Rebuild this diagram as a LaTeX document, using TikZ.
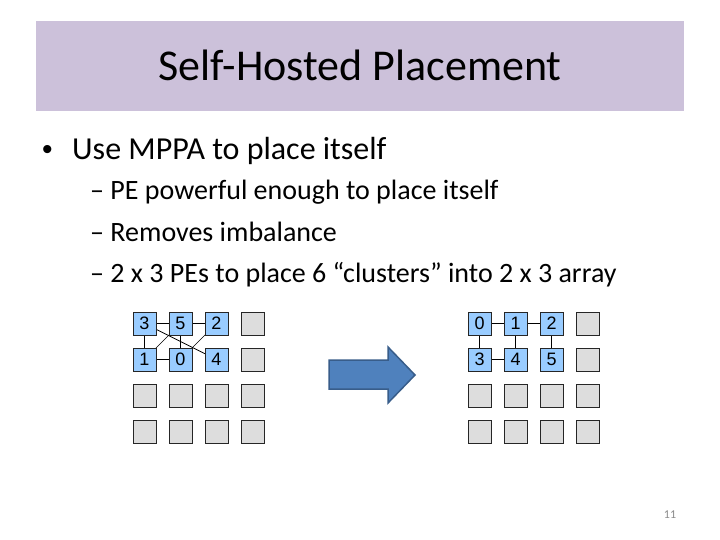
\documentclass[tikz,border=0pt]{standalone}
\usepackage{fontspec}
\setmainfont{Carlito}
\newfontfamily\arialfont{Liberation Sans}
\definecolor{titlebg}{HTML}{CCC1DA}
\definecolor{peblue}{HTML}{99CCFF}
\definecolor{pegray}{HTML}{DDDDDD}
\definecolor{arrowfill}{HTML}{4F81BD}
\definecolor{arrowline}{HTML}{385D8A}
\definecolor{pagegray}{HTML}{8B8B8B}
\tikzset{
  pe/.style={draw=black!85, line width=0.8pt, minimum size=23pt, inner sep=0pt, font=\arialfont\fontsize{18}{18}\selectfont},
  peused/.style={pe, fill=peblue},
  pefree/.style={pe, fill=pegray},
  link/.style={draw=black, line width=0.7pt},
  txt/.style={anchor=base west, inner sep=0pt}
}
\begin{document}
\begin{tikzpicture}[x=1pt,y=-1pt]
\useasboundingbox (0,0) rectangle (720,540);
\fill[white] (0,0) rectangle (720,540);
% title bar
\fill[titlebg] (36,21) rectangle (684,111);
\node[anchor=base, inner sep=0pt, font=\fontsize{44}{44}\selectfont] (title) at (360,81) {Self-Hosted Placement};
% bullets
\node[txt, font=\arialfont\fontsize{30}{30}\selectfont] (b0) at (42,160) {•};
\node[txt, font=\fontsize{32}{32}\selectfont] (t0) at (72,160) {Use MPPA to place itself};
\node[txt, font=\fontsize{28}{28}\selectfont] (t1) at (90,200) {– PE powerful enough to place itself};
\node[txt, font=\fontsize{28}{28}\selectfont] (t2) at (90,241) {– Removes imbalance};
\node[txt, font=\fontsize{28}{28}\selectfont] (t3) at (90,282) {– 2 x 3 PEs to place 6 “clusters” into 2 x 3 array};
% left grid links (drawn first, behind)
\coordinate (L00) at (144.5,323.5);
\coordinate (L10) at (180.5,323.5);
\coordinate (L20) at (216.5,323.5);
\coordinate (L01) at (144.5,359.5);
\coordinate (L11) at (180.5,359.5);
\coordinate (L21) at (216.5,359.5);
\draw[link] (L00) -- (L10);
\draw[link] (L10) -- (L20);
\draw[link] (L00) -- (L01);
\draw[link] (L01) -- (L11);
\draw[link] (L10) -- (L11);
\draw[link] (L00) -- (L21);
\draw[link] (L01) -- (L10);
\draw[link] (L11) -- (L20);
% left grid nodes
\node[peused] (l3) at (L00) {3};
\node[peused] (l5) at (L10) {5};
\node[peused] (l2) at (L20) {2};
\node[pefree] (lg03) at (252.5,323.5) {};
\node[peused] (l1) at (L01) {1};
\node[peused] (l0) at (L11) {0};
\node[peused] (l4) at (L21) {4};
\node[pefree] (lg13) at (252.5,359.5) {};
\foreach \i/\x in {0/144.5,1/180.5,2/216.5,3/252.5}{
  \node[pefree] (lga\i) at (\x,395.5) {};
  \node[pefree] (lgb\i) at (\x,431.5) {};
}
% arrow
\draw[arrowline, fill=arrowfill, line width=1.5pt, line join=miter]
  (329,360) -- (388,360) -- (388,347) -- (415,375) -- (388,403) -- (388,389) -- (329,389) -- cycle;
% right grid
\coordinate (R00) at (479.5,323.5);
\coordinate (R10) at (515.5,323.5);
\coordinate (R20) at (551.5,323.5);
\coordinate (R01) at (479.5,359.5);
\coordinate (R11) at (515.5,359.5);
\coordinate (R21) at (551.5,359.5);
\draw[link] (R00) -- (R10);
\draw[link] (R10) -- (R20);
\draw[link] (R00) -- (R01);
\draw[link] (R10) -- (R11);
\draw[link] (R20) -- (R21);
\draw[link] (R01) -- (R11);
\node[peused] (r0) at (R00) {0};
\node[peused] (r1) at (R10) {1};
\node[peused] (r2) at (R20) {2};
\node[pefree] (rg03) at (587.5,323.5) {};
\node[peused] (r3) at (R01) {3};
\node[peused] (r4) at (R11) {4};
\node[peused] (r5) at (R21) {5};
\node[pefree] (rg13) at (587.5,359.5) {};
\foreach \i/\x in {0/479.5,1/515.5,2/551.5,3/587.5}{
  \node[pefree] (rga\i) at (\x,395.5) {};
  \node[pefree] (rgb\i) at (\x,431.5) {};
}
% page number
\node[anchor=base, inner sep=0pt, text=pagegray, font=\fontsize{12}{12}\selectfont] (pg) at (670,518) {11};
\end{tikzpicture}
\end{document}
